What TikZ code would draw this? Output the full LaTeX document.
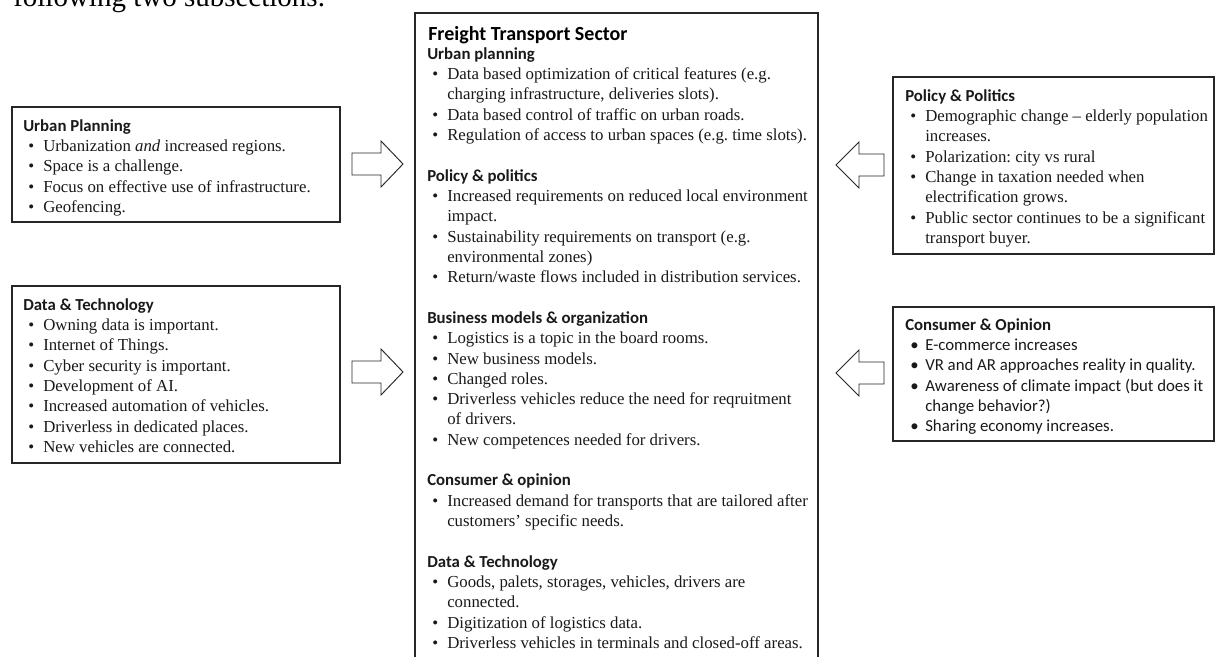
\documentclass[tikz,border=0pt]{standalone}
\usepackage{fontspec}
\setmainfont{Liberation Serif}
\newfontfamily\calibri{Carlito}
\usetikzlibrary{fit}
\frenchspacing
\newcommand{\hd}[1]{{\calibri\bfseries #1}}
\newcommand{\bul}{\makebox[15pt][l]{\hspace{3.75pt}\textbullet}}
\newcommand{\cont}{\hspace{15pt}}
\newcommand{\bodyfont}{\fontsize{12.6pt}{15.25pt}\selectfont}
\begin{document}
\begin{tikzpicture}[x=0.75pt,y=-0.75pt]
\tikzset{
  box/.style={draw=black!85, line width=0.9pt, inner sep=0pt, fill=none},
  txt/.style={anchor=base west, inner sep=0pt, font=\bodyfont, text=black!90},
  barrow/.style={draw=black!85, line width=0.7pt, line join=miter, fill=white}
}
\useasboundingbox (0,0) rectangle (1218,657);
\clip (0,0) rectangle (1218,657);

% partial text at top
\node[anchor=base west, inner sep=0pt, font=\fontsize{21.75pt}{26pt}\selectfont] (toptext) at (13,6) {following two subsections.};

% boxes
\node[box, fit={(12,107) (340,222)}] (upbox) {};
\node[box, fit={(12,286) (340,463)}] (dtbox) {};
\node[box, fit={(415,13) (818,680)}] (cbox) {};
\node[box, fit={(893,77) (1214,254)}] (ppbox) {};
\node[box, fit={(893,307) (1214,441)}] (cobox) {};

% left box 1
\node[txt] (uptext) at (23,131) {\begin{tabular}[t]{@{}l@{}}
\hd{Urban Planning}\\
\bul Urbanization \textit{and} increased regions.\\
\bul Space is a challenge.\\
\bul Focus on effective use of infrastructure.\\
\bul Geofencing.
\end{tabular}};

% left box 2
\node[txt] (dttext) at (23,310) {\begin{tabular}[t]{@{}l@{}}
\hd{Data \& Technology}\\
\bul Owning data is important.\\
\bul Internet of Things.\\
\bul Cyber security is important.\\
\bul Development of AI.\\
\bul Increased automation of vehicles.\\
\bul Driverless in dedicated places.\\
\bul New vehicles are connected.
\end{tabular}};

% center title and body
\node[anchor=base west, inner sep=0pt, font=\calibri\bfseries\fontsize{15pt}{18pt}\selectfont] (ctitle) at (428,40) {Freight Transport Sector};
\node[txt] (ctext) at (427,59) {\begin{tabular}[t]{@{}l@{}}
\hd{Urban planning}\\
\bul Data based optimization of critical features (e.g.\\
\cont charging infrastructure, deliveries slots).\\
\bul Data based control of traffic on urban roads.\\
\bul Regulation of access to urban spaces (e.g. time slots).\\
\mbox{}\\
\hd{Policy \& politics}\\
\bul Increased requirements on reduced local environment\\
\cont impact.\\
\bul Sustainability requirements on transport (e.g.\\
\cont environmental zones)\\
\bul Return/waste flows included in distribution services.\\
\mbox{}\\
\hd{Business models \& organization}\\
\bul Logistics is a topic in the board rooms.\\
\bul New business models.\\
\bul Changed roles.\\
\bul Driverless vehicles reduce the need for reqruitment\\
\cont of drivers.\\
\bul New competences needed for drivers.\\
\mbox{}\\
\hd{Consumer \& opinion}\\
\bul Increased demand for transports that are tailored after\\
\cont customers’ specific needs.\\
\mbox{}\\
\hd{Data \& Technology}\\
\bul Goods, palets, storages, vehicles, drivers are\\
\cont connected.\\
\bul Digitization of logistics data.\\
\bul Driverless vehicles in terminals and closed-off areas.
\end{tabular}};

% right box 1
\node[txt] (pptext) at (905,101) {\begin{tabular}[t]{@{}l@{}}
\hd{Policy \& Politics}\\
\bul Demographic change – elderly population\\
\cont increases.\\
\bul Polarization: city vs rural\\
\bul Change in taxation needed when\\
\cont electrification grows.\\
\bul Public sector continues to be a significant\\
\cont transport buyer.
\end{tabular}};

% right box 2 (Calibri body)
\node[txt, font=\calibri\bodyfont] (cotext) at (905,330) {\begin{tabular}[t]{@{}l@{}}
\hd{Consumer \& Opinion}\\
\bul E-commerce increases\\
\bul VR and AR approaches reality in quality.\\
\bul Awareness of climate impact (but does it\\
\cont change behavior?)\\
\bul Sharing economy increases.
\end{tabular}};

% block arrows
\coordinate (l1) at (403,164);
\coordinate (l2) at (403,372);
\coordinate (r1) at (836,165);
\coordinate (r2) at (836,373);
\draw[barrow] (l1) -- ++(-22,-23) -- ++(0,12) -- ++(-29,0) -- ++(0,22) -- ++(29,0) -- ++(0,12) -- cycle;
\draw[barrow] (l2) -- ++(-22,-23) -- ++(0,12) -- ++(-29,0) -- ++(0,22) -- ++(29,0) -- ++(0,12) -- cycle;
\draw[barrow] (r1) -- ++(23,-23) -- ++(0,12) -- ++(25,0) -- ++(0,22) -- ++(-25,0) -- ++(0,12) -- cycle;
\draw[barrow] (r2) -- ++(23,-23) -- ++(0,12) -- ++(25,0) -- ++(0,22) -- ++(-25,0) -- ++(0,12) -- cycle;
\end{tikzpicture}
\end{document}
